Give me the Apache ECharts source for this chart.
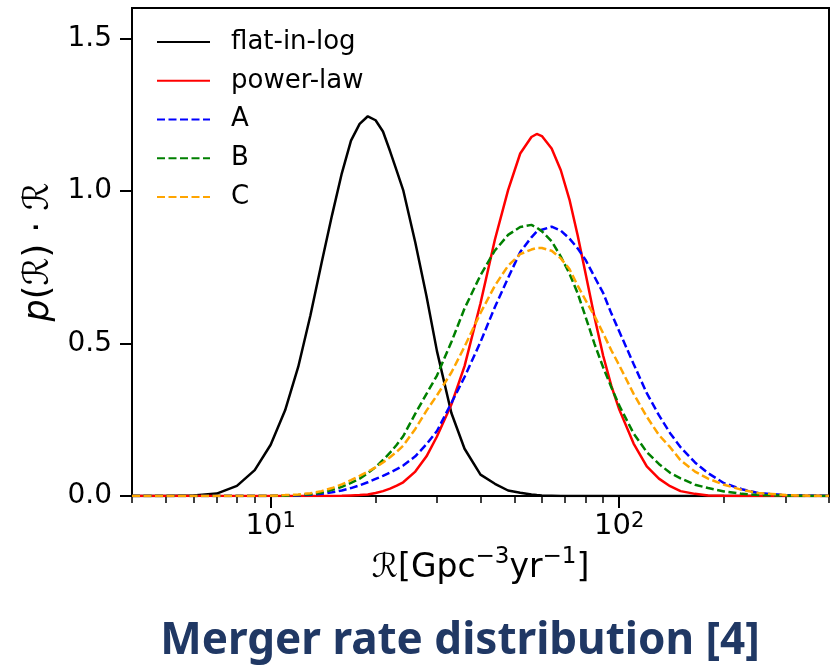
<!DOCTYPE html>
<html>
<head>
<meta charset="utf-8">
<script src="https://cdn.jsdelivr.net/npm/echarts@6/dist/echarts.min.js"></script>
<style>
  html, body { margin: 0; padding: 0; background: #ffffff; }
  #chart { width: 831px; height: 668px; }
</style>
</head>
<body>
<div id="chart"></div>
<script>
// Merger rate R in Gpc^-3 yr^-1 (shared sampling grid for every curve)
const rateGrid = [4, 5, 6, 7, 8, 9, 10, 11, 12, 13, 14, 15, 16, 17, 18, 19, 20, 21, 22, 23, 24,
  26, 28, 30, 33, 36, 40, 44, 48, 52, 56, 58, 60, 64, 68, 72, 76, 80, 85, 90, 95, 100,
  110, 120, 130, 140, 150, 165, 180, 200, 225, 250, 300, 350, 400];

// p(R)·R for each prior / model
const flatInLog = [0, 0, 0.002, 0.008, 0.033, 0.085, 0.168, 0.281, 0.424, 0.592,
  0.765, 0.921, 1.058, 1.165, 1.22, 1.245, 1.232, 1.195, 1.131, 1.066,
  1.003, 0.831, 0.655, 0.475, 0.272, 0.155, 0.07, 0.04, 0.018, 0.011,
  0.005, 0.003, 0.002, 0.001, 0, 0, 0, 0, 0, 0,
  0, 0, 0, 0, 0, 0, 0, 0, 0, 0,
  0, 0, 0, 0, 0];
const powerLaw = [0, 0, 0, 0, 0, 0, 0, 0, 0, 0,
  0, 0, 0.001, 0.002, 0.003, 0.005, 0.01, 0.016, 0.024, 0.034,
  0.045, 0.08, 0.13, 0.195, 0.3, 0.426, 0.632, 0.841, 1.003, 1.123,
  1.177, 1.187, 1.18, 1.139, 1.068, 0.972, 0.855, 0.732, 0.585, 0.459,
  0.36, 0.284, 0.172, 0.097, 0.057, 0.032, 0.016, 0.007, 0.002, 0.001,
  0, 0, 0, 0, 0];
const modelA = [0, 0, 0, 0, 0, 0, 0, 0.001, 0.002, 0.004,
  0.007, 0.012, 0.018, 0.026, 0.035, 0.045, 0.056, 0.066, 0.077, 0.088,
  0.1, 0.13, 0.17, 0.213, 0.305, 0.39, 0.505, 0.62, 0.715, 0.8,
  0.848, 0.867, 0.873, 0.883, 0.87, 0.844, 0.812, 0.775, 0.718, 0.665,
  0.598, 0.54, 0.433, 0.337, 0.265, 0.206, 0.16, 0.11, 0.075, 0.042,
  0.022, 0.01, 0.003, 0.001, 0];
const modelB = [0, 0, 0, 0, 0, 0, 0, 0.001, 0.003, 0.006,
  0.011, 0.02, 0.03, 0.043, 0.057, 0.075, 0.095, 0.118, 0.142, 0.168,
  0.196, 0.27, 0.335, 0.395, 0.505, 0.615, 0.724, 0.805, 0.856, 0.882,
  0.889, 0.88, 0.868, 0.835, 0.785, 0.729, 0.665, 0.589, 0.498, 0.421,
  0.356, 0.297, 0.205, 0.144, 0.105, 0.076, 0.058, 0.037, 0.026, 0.015,
  0.007, 0.003, 0.001, 0, 0];
const modelC = [0, 0, 0, 0, 0, 0, 0.001, 0.003, 0.005, 0.009,
  0.016, 0.026, 0.038, 0.052, 0.066, 0.08, 0.094, 0.11, 0.127, 0.145,
  0.165, 0.22, 0.28, 0.33, 0.405, 0.49, 0.6, 0.69, 0.755, 0.793,
  0.808, 0.813, 0.813, 0.804, 0.779, 0.744, 0.69, 0.643, 0.59, 0.533,
  0.477, 0.429, 0.335, 0.26, 0.2, 0.16, 0.117, 0.08, 0.057, 0.037,
  0.02, 0.01, 0.003, 0.001, 0];

// Axis ticks
const xMajorTicks = [10, 100];
const xMinorTicks = [4, 5, 6, 7, 8, 9, 20, 30, 40, 50, 60, 70, 80, 90, 200, 300, 400];
const yTicks = [0, 0.5, 1.0, 1.5];

const FONT = "'DejaVu Sans', sans-serif";
const pairs = vals => rateGrid.map((r, i) => [r, vals[i]]);

function curve(name, vals, color, dashed) {
  return {
    name: name,
    type: 'line',
    data: pairs(vals),
    symbol: 'none',
    showSymbol: false,
    smooth: false,
    silent: true,
    clip: true,
    itemStyle: { color: color },
    lineStyle: { color: color, width: 2.5, type: dashed ? [8, 3.5] : 'solid' }
  };
}

const chart = echarts.init(document.getElementById('chart'), null, { renderer: 'canvas' });
chart.setOption({
  animation: false,
  backgroundColor: '#ffffff',
  textStyle: { fontFamily: FONT, color: '#000' },
  title: {
    text: 'Merger rate distribution [4]',
    left: 460,
    top: 619,
    padding: 0,
    textAlign: 'center',
    textStyle: { fontFamily: "'Noto Sans', sans-serif", fontWeight: 'bold', fontSize: 44, color: '#203864' }
  },
  grid: {
    left: 132, right: 2, top: 8, bottom: 172,
    show: true, borderColor: '#000', borderWidth: 2, backgroundColor: 'transparent'
  },
  legend: {
    orient: 'vertical',
    left: 156,
    top: 29,
    padding: 0,
    itemWidth: 53,
    itemHeight: 14,
    itemGap: 12.75,
    selectedMode: false,
    itemStyle: { opacity: 0 },
    textStyle: { fontFamily: FONT, fontSize: 26, color: '#000', lineHeight: 26, padding: [0, 0, 0, 16] },
    data: ['flat-in-log', 'power-law', 'A', 'B', 'C']
  },
  xAxis: [
    {
      type: 'log', logBase: 10, min: 4, max: 400, gridIndex: 0, position: 'bottom',
      name: '{m|\u211b[Gpc}{s|\u22123}{m|yr}{s|\u22121}{m|]}',
      nameLocation: 'middle', nameGap: 45,
      nameTextStyle: {
        fontFamily: FONT, fontSize: 33, color: '#000',
        rich: {
          m: { fontFamily: FONT, fontSize: 33, lineHeight: 46, color: '#000' },
          s: { fontFamily: FONT, fontSize: 23, lineHeight: 23, verticalAlign: 'top', color: '#000' }
        }
      },
      axisLine: { show: true, onZero: false, lineStyle: { color: '#000', width: 2 } },
      axisTick: { show: true, customValues: xMajorTicks, length: 12, lineStyle: { color: '#000', width: 2 } },
      axisLabel: {
        customValues: xMajorTicks, fontFamily: FONT, fontSize: 29, color: '#000', margin: 15,
        formatter: v => '{b|10}{e|' + Math.round(Math.log10(v)) + '}',
        rich: {
          b: { fontFamily: FONT, fontSize: 29, lineHeight: 30, color: '#000' },
          e: { fontFamily: FONT, fontSize: 21, lineHeight: 20, verticalAlign: 'top', color: '#000' }
        }
      },
      splitLine: { show: false },
      minorTick: { show: false }
    },
    {
      type: 'log', logBase: 10, min: 4, max: 400, gridIndex: 0, position: 'bottom',
      axisLine: { show: false },
      axisTick: { show: true, customValues: xMinorTicks, length: 7, lineStyle: { color: '#000', width: 1.5 } },
      axisLabel: { show: false },
      splitLine: { show: false }
    }
  ],
  yAxis: {
    type: 'value', min: 0, max: 1.6,
    name: '{i|p}(\u211b) \u00b7 \u211b',
    nameLocation: 'middle', nameGap: 66, nameRotate: 90,
    nameTextStyle: {
      fontFamily: FONT, fontSize: 35, color: '#000',
      rich: { i: { fontFamily: FONT, fontSize: 35, fontStyle: 'italic', color: '#000' } }
    },
    axisLine: { show: true, lineStyle: { color: '#000', width: 2 } },
    axisTick: { show: true, customValues: yTicks, length: 12, lineStyle: { color: '#000', width: 2 } },
    axisLabel: {
      customValues: yTicks, fontFamily: FONT, fontSize: 28, color: '#000', margin: 20,
      formatter: v => v.toFixed(1)
    },
    splitLine: { show: false }
  },
  series: [
    curve('flat-in-log', flatInLog, '#000000', false),
    curve('power-law', powerLaw, '#ff0000', false),
    curve('A', modelA, '#0000ff', true),
    curve('B', modelB, '#008000', true),
    curve('C', modelC, '#ffa500', true)
  ]
});
</script>
</body>
</html>
